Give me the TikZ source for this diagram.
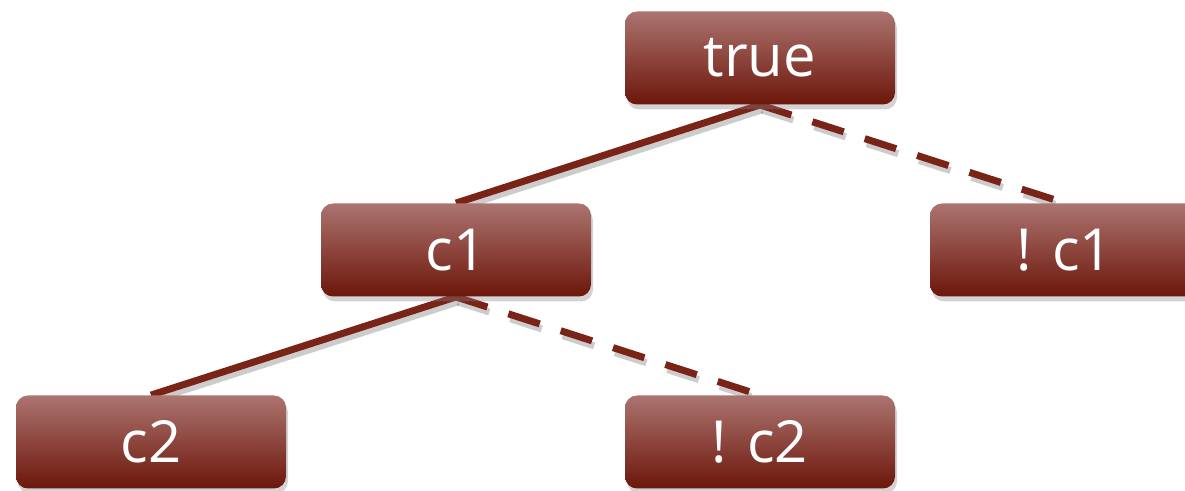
\documentclass[tikz,border=0pt]{standalone}
\usepackage{fontspec}
\setmainfont{Open Sans}
\usetikzlibrary{shadows,backgrounds}
\definecolor{boxtop}{RGB}{172,116,112}
\definecolor{boxbot}{RGB}{108,22,10}
\definecolor{edgecol}{RGB}{122,36,24}
\begin{document}
\begin{tikzpicture}[x=0.5pt,y=-0.5pt,
    cond node/.style={rectangle,rounded corners=6pt,minimum width=135pt,minimum height=46.5pt,
        top color=boxtop,bottom color=boxbot,text=white,font=\fontsize{29}{29}\selectfont,
        drop shadow={shadow xshift=1pt,shadow yshift=-2.5pt,opacity=0.35}},
    branch/.style={draw=edgecol,line width=3.5pt,
        preaction={draw=black,opacity=0.2,line width=3.5pt,#1,transform canvas={xshift=1pt,yshift=-2.5pt}},#1},
    branch/.default={solid},
    negated/.style={branch={dash pattern=on 16.5pt off 11pt}}]
    \clip (0,0) rectangle (1185,491);
    \useasboundingbox (0,0) rectangle (1185,491);

    \node[cond node] at (760, 58) (t) {true};
    \node[cond node] at (456, 250) (c1) {c1};
    \node[cond node] at (1065, 250) (nc1) {! c1};
    \node[cond node] at (151, 442) (c2) {c2};
    \node[cond node] at (760, 442) (nc2) {! c2};

    % then-branches solid, else-branches dashed
    \begin{pgfonlayer}{background}
        \path
            (t.south) edge[branch] (c1.north)
            (t.south) edge[negated] (nc1.north)
            (c1.south) edge[branch] (c2.north)
            (c1.south) edge[negated] (nc2.north)
            ;
    \end{pgfonlayer}
\end{tikzpicture}
\end{document}
